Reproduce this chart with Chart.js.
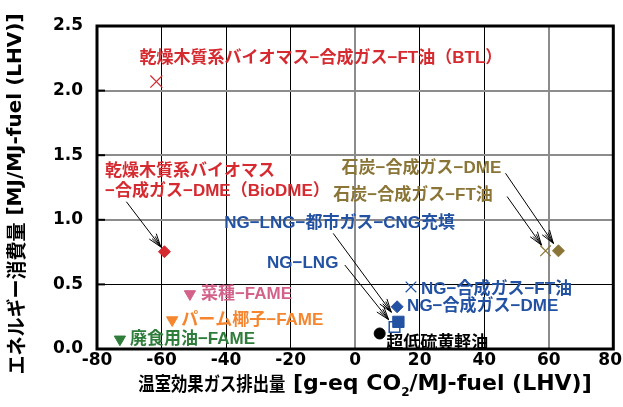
<!DOCTYPE html>
<html><head><meta charset="utf-8">
<script src="https://cdn.jsdelivr.net/npm/chart.js@4/dist/chart.umd.min.js"></script>
<style>html,body{margin:0;padding:0;background:#fff}#wrap{width:623px;height:407px}</style>
</head><body><div id="wrap"><canvas id="c" width="623" height="407"></canvas></div>
<script>
// ---- data ----
const seriesNames = [
  '乾燥木質系バイオマス−合成ガス−FT油（BTL）',
  '乾燥木質系バイオマス\n−合成ガス−DME（BioDME）',
  '石炭−合成ガス−DME',
  '石炭−合成ガス−FT油',
  'NG−LNG−都市ガス−CNG充填',
  'NG−LNG',
  'NG−合成ガス−FT油',
  'NG−合成ガス−DME',
  '菜種−FAME',
  'パーム椰子−FAME',
  '廃食用油−FAME',
  '超低硫黄軽油'
];
const ghgEmission = [-61.6, -59.1, 63.0, 59.0, 13.4, 12.2, 17.3, 13.0, -51.2, -56.7, -72.9, 7.6];
const energyUse   = [2.07, 0.753, 0.76, 0.76, 0.21, 0.17, 0.48, 0.327, 0.426, 0.224, 0.075, 0.12];
const xTickValues = [-80, -60, -40, -20, 0, 20, 40, 60, 80];
const yTickValues = [0.0, 0.5, 1.0, 1.5, 2.0, 2.5];

// ---- styles (separate from data) ----
const RED='#d52a30', OLIVE='#8a7536', BLUE='#2352a3', PINK='#d2628a', ORANGE='#f5862f', GREEN='#2f7d3a';
const markerStyles = [
  {style:'crossRot', r:8.5, color:RED, fill:RED, bw:1.2},
  {style:'rectRot', r:6, color:RED, fill:RED, bw:1},
  {style:'rectRot', r:6, color:OLIVE, fill:OLIVE, bw:1},
  {style:'crossRot', r:7.5, color:OLIVE, fill:OLIVE, bw:1.2},
  {style:'rect', r:8, color:BLUE, fill:BLUE, bw:1},
  {style:'rect', r:7.5, color:BLUE, fill:'#ffffff', bw:1.5},
  {style:'crossRot', r:7.5, color:BLUE, fill:BLUE, bw:1.2},
  {style:'rectRot', r:6, color:BLUE, fill:BLUE, bw:1},
  {style:'triangle', r:6.5, color:PINK, fill:PINK, bw:1, rot:180},
  {style:'triangle', r:6.5, color:ORANGE, fill:ORANGE, bw:1, rot:180},
  {style:'triangle', r:6.5, color:GREEN, fill:GREEN, bw:1, rot:180},
  {style:'circle', r:5.5, color:'#000', fill:'#000', bw:1}
];
// label anchors (data units, left/middle of first line)
const labelAnchors = [
  [-66.8, 2.25], [-77.5, 1.372], [-4.2, 1.40], [-6.8, 1.19], [-40.6, 0.973], [-27.3, 0.663],
  [20.4, 0.462], [16.1, 0.327], [-47.8, 0.426], [-53.9, 0.224], [-69.8, 0.075], [9.6, 0.046]
];
const labelColors = [RED, RED, OLIVE, OLIVE, BLUE, BLUE, BLUE, BLUE, PINK, ORANGE, GREEN, '#000'];
// arrows: tail in data units -> series index, gap (px) before the marker
const arrows = [
  {from:[-70.9, 1.14], to:1, gap:6},
  {from:[-6.8, 0.895], to:4, gap:12},
  {from:[-3.2, 0.65], to:5, gap:9.5},
  {from:[46.6, 1.36], to:2, gap:9},
  {from:[47.1, 1.18], to:3, gap:7}
];

const LABEL_FONT = 'bold 17px "Liberation Sans", "Noto Sans CJK JP", sans-serif';
const TICK_FAMILY = '"DejaVu Sans", Verdana, sans-serif';
const TICK_FONT = 'bold 17px ' + TICK_FAMILY;

const datasets = seriesNames.map((n, i) => ({
  label: n,
  data: [{x: ghgEmission[i], y: energyUse[i]}],
  pointStyle: markerStyles[i].style,
  pointRadius: markerStyles[i].r,
  pointHoverRadius: markerStyles[i].r,
  pointRotation: markerStyles[i].rot || 0,
  borderColor: markerStyles[i].color,
  backgroundColor: markerStyles[i].fill,
  pointBorderWidth: markerStyles[i].bw,
  showLine: false
}));

function drawArrowHead(ctx, x, y, ang) {
  const back = ang + Math.PI;
  ctx.beginPath();
  [[0.32, 14], [-0.32, 14], [0.16, 12], [-0.16, 12]].forEach(([a, l]) => {
    ctx.moveTo(x, y);
    ctx.lineTo(x + Math.cos(back + a) * l, y + Math.sin(back + a) * l);
  });
  ctx.stroke();
}

function partWidth(ctx, p) { ctx.font = p.f; return ctx.measureText(p.t).width * (p.sx || 1); }
function mixedWidth(ctx, parts) { return parts.reduce((s, p) => s + partWidth(ctx, p), 0); }
function drawMixed(ctx, parts, x, y) {
  let cx = x;
  parts.forEach(p => {
    ctx.font = p.f;
    ctx.save();
    ctx.translate(cx, y + (p.dy || 0));
    ctx.scale(p.sx || 1, 1);
    ctx.fillText(p.t, 0, 0);
    ctx.restore();
    cx += partWidth(ctx, p);
  });
}

const annot = {
  id: 'annot',
  beforeDatasetsDraw(chart) {
    const {ctx, chartArea: a, scales} = chart;
    ctx.save();
    ctx.strokeStyle = '#000'; ctx.lineWidth = 2;
    yTickValues.forEach(v => {
      const py = scales.y.getPixelForValue(v);
      ctx.beginPath(); ctx.moveTo(a.left, py); ctx.lineTo(a.left + 8, py); ctx.stroke();
    });
    ctx.lineWidth = 3;
    ctx.strokeRect(a.left, a.top, a.right - a.left, a.bottom - a.top);
    ctx.restore();
  },
  afterDatasetsDraw(chart) {
    const {ctx, scales, chartArea: a} = chart;
    const xs = scales.x, ys = scales.y;
    ctx.save();
    ctx.font = LABEL_FONT;
    ctx.textAlign = 'left';
    ctx.textBaseline = 'middle';
    seriesNames.forEach((n, i) => {
      const px = xs.getPixelForValue(labelAnchors[i][0]);
      const py = ys.getPixelForValue(labelAnchors[i][1]);
      ctx.fillStyle = labelColors[i];
      n.split('\n').forEach((line, k) => ctx.fillText(line, px, py + k * 20));
    });
    // arrows
    ctx.strokeStyle = '#000';
    ctx.lineWidth = 1;
    arrows.forEach(ar => {
      const x0 = xs.getPixelForValue(ar.from[0]), y0 = ys.getPixelForValue(ar.from[1]);
      const tx = xs.getPixelForValue(ghgEmission[ar.to]), ty = ys.getPixelForValue(energyUse[ar.to]);
      const ang = Math.atan2(ty - y0, tx - x0);
      const x1 = tx - Math.cos(ang) * ar.gap, y1 = ty - Math.sin(ang) * ar.gap;
      ctx.beginPath(); ctx.moveTo(x0, y0); ctx.lineTo(x1, y1); ctx.stroke();
      drawArrowHead(ctx, x1, y1, ang);
    });
    // x tick labels (kept inside the canvas at the right edge)
    ctx.fillStyle = '#000';
    ctx.font = TICK_FONT;
    ctx.textAlign = 'center';
    xTickValues.forEach(v => {
      const t = String(v);
      const w = ctx.measureText(t).width;
      let px = xs.getPixelForValue(v);
      px = Math.min(px, 622 - w / 2);
      ctx.fillText(t, px, a.bottom + 12);
    });
    // axis titles
    ctx.textAlign = 'left';
    const yParts = [
      {t:'エネルギー消費量', f:'bold 20px "Noto Sans CJK JP", sans-serif', sx:0.95},
      {t:' [MJ/MJ-fuel (LHV)]', f:'bold 20px ' + TICK_FAMILY}
    ];
    ctx.save();
    ctx.translate(16, 194);
    ctx.rotate(-Math.PI / 2);
    drawMixed(ctx, yParts, -mixedWidth(ctx, yParts) / 2, 0);
    ctx.restore();
    const latX = 'bold 22px ' + TICK_FAMILY;
    const xParts = [
      {t:'温室効果ガス排出量', f:'bold 19px "Noto Sans CJK JP", sans-serif', sx:0.86},
      {t:' [g-eq CO', f:latX},
      {t:'2', f:'bold 12px ' + TICK_FAMILY, dy:9},
      {t:'/MJ-fuel (LHV)]', f:latX}
    ];
    drawMixed(ctx, xParts, 365 - mixedWidth(ctx, xParts) / 2, 384);
    ctx.restore();
  }
};

const tickFont = {family: TICK_FAMILY, size: 17, weight: 'bold'};

new Chart(document.getElementById('c'), {
  type: 'scatter',
  data: {datasets},
  options: {
    responsive: false,
    devicePixelRatio: 1,
    animation: false,
    layout: {padding: {top: 26, right: 6, left: 0, bottom: 0}},
    plugins: {legend: {display: false}, tooltip: {enabled: false}},
    scales: {
      x: {
        type: 'linear', min: -80, max: 80,
        afterBuildTicks: s => { s.ticks = xTickValues.map(v => ({value: v})); },
        afterFit: s => { s.height = 58; s.paddingLeft = 0; s.paddingRight = 0; },
        border: {display: false},
        grid: {
          drawTicks: false,
          color: c => (c.tick && (c.tick.value === 0 || c.tick.value === 60)) ? '#8c8c8c' : '#000',
          lineWidth: c => (c.tick && (c.tick.value === 0 || c.tick.value === 60)) ? 2 : 1
        },
        ticks: {display: false}
      },
      y: {
        type: 'linear', min: 0, max: 2.5,
        afterBuildTicks: s => { s.ticks = yTickValues.map(v => ({value: v})); },
        afterFit: s => { s.width = 97; s.paddingTop = 0; s.paddingBottom = 0; },
        border: {display: false},
        grid: {
          drawTicks: false,
          color: c => (c.tick && c.tick.value === 0.5) ? '#000' : '#8c8c8c',
          lineWidth: c => (c.tick && c.tick.value === 0.5) ? 1 : 2
        },
        ticks: {font: tickFont, color: '#000', padding: 14, callback: v => Number(v).toFixed(1)}
      }
    }
  },
  plugins: [annot]
});
</script></body></html>
